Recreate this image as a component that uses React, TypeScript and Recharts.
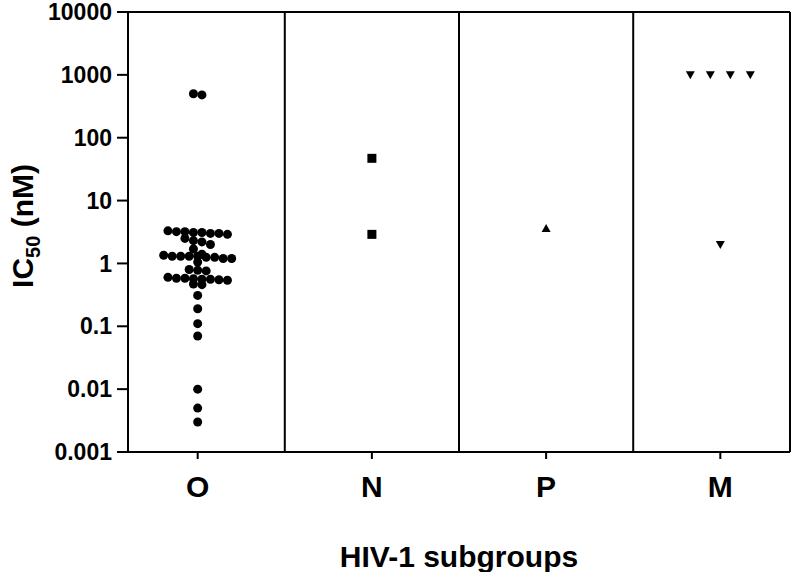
import React from "react";
import {
  ScatterChart,
  Scatter,
  XAxis,
  YAxis,
  ReferenceLine,
} from "recharts";

// ---- data ----
const groups = ["O", "N", "P", "M"];
const yTickValues = [0.001, 0.01, 0.1, 1, 10, 100, 1000, 10000];
const yTickLabels = ["0.001", "0.01", "0.1", "1", "10", "100", "1000", "10000"];

const valuesO = [
  500, 480,
  3.3, 3.2, 3.2, 3.1, 3.1, 3.0, 3.0, 2.9,
  2.5, 2.3, 2.2, 2.0,
  1.7,
  1.4, 1.35, 1.3, 1.3, 1.3, 1.3, 1.25, 1.25, 1.2, 1.2,
  1.05,
  0.8, 0.78, 0.76,
  0.6, 0.58, 0.58, 0.57, 0.56, 0.56, 0.55, 0.54,
  0.47, 0.46,
  0.31, 0.19, 0.11, 0.07, 0.01, 0.005, 0.003,
];
const valuesN = [47, 2.9];
const valuesP = [3.6];
const valuesM = [1000, 1000, 1000, 1000, 2.0];

// ---- layout constants ----
const W = 793;
const H = 572;
const M_TOP = 12;
const M_RIGHT = 3;
const Y_AXIS_W = 128;
const X_AXIS_H = 120;
const X_DOMAIN: [number, number] = [0.6, 4.4];
const PLOT_W = W - Y_AXIS_W - M_RIGHT;
const PX_PER_UNIT = PLOT_W / (X_DOMAIN[1] - X_DOMAIN[0]);
const FONT = "'Liberation Sans', Arial, Helvetica, sans-serif";

// row-based dot plot layout (like a column scatter plot)
function swarm(values: number[], groupX: number, spacingPx: number, rowDecades: number) {
  const sorted = [...values].sort((a, b) => b - a);
  const rows: number[][] = [];
  let cur: number[] = [];
  let start = 0;
  sorted.forEach((v) => {
    const lv = Math.log10(v);
    if (cur.length === 0) {
      cur = [v];
      start = lv;
    } else if (start - lv < rowDecades) {
      cur.push(v);
    } else {
      rows.push(cur);
      cur = [v];
      start = lv;
    }
  });
  if (cur.length) rows.push(cur);
  const pts: { x: number; y: number }[] = [];
  rows.forEach((row) => {
    const n = row.length;
    row.forEach((v, i) => {
      const off = (i - (n - 1) / 2) * spacingPx;
      pts.push({ x: groupX + off / PX_PER_UNIT, y: v });
    });
  });
  return pts;
}

const dataO = swarm(valuesO, 1, 8.5, 0.1);
const dataN = swarm(valuesN, 2, 9, 0.1);
const dataP = swarm(valuesP, 3, 9, 0.1);
const dataM = swarm(valuesM, 4, 20, 0.1);

const Circle = (p: any) => <circle cx={p.cx} cy={p.cy} r={4.5} fill="#000" />;
const Square = (p: any) => (
  <rect x={p.cx - 4.5} y={p.cy - 4.5} width={9} height={9} fill="#000" />
);
const TriUp = (p: any) => (
  <polygon
    points={`${p.cx},${p.cy - 4.5} ${p.cx + 4.5},${p.cy + 3.5} ${p.cx - 4.5},${p.cy + 3.5}`}
    fill="#000"
  />
);
const TriDown = (p: any) => (
  <polygon
    points={`${p.cx - 4.5},${p.cy - 3.5} ${p.cx + 4.5},${p.cy - 3.5} ${p.cx},${p.cy + 4.5}`}
    fill="#000"
  />
);

const YLabel = () => (
  <text
    transform="translate(33,226) rotate(-90)"
    textAnchor="middle"
    fontFamily={FONT}
    fontWeight="bold"
    fontSize={30}
    fill="#000"
  >
    <tspan>IC</tspan>
    <tspan fontSize={20} dy={7}>50</tspan>
    <tspan dy={-7}> (nM)</tspan>
  </text>
);

export default function App() {
  return (
    <div style={{ position: "absolute", left: 0, top: 0, width: W, height: H, background: "#fff" }}>
      <ScatterChart
        width={W}
        height={H}
        margin={{ top: M_TOP, right: M_RIGHT, bottom: 0, left: 0 }}
      >
        <XAxis
          type="number"
          dataKey="x"
          domain={X_DOMAIN}
          ticks={[1, 2, 3, 4]}
          tickFormatter={(v: number) => groups[Math.round(v) - 1]}
          allowDataOverflow
          height={X_AXIS_H}
          axisLine={{ stroke: "#000", strokeWidth: 2 }}
          tickLine={{ stroke: "#000", strokeWidth: 2 }}
          tickSize={7}
          tickMargin={17}
          tick={{ fill: "#000", fontFamily: FONT, fontWeight: "bold", fontSize: 30 }}
          label={{
            value: "HIV-1 subgroups",
            position: "insideBottom",
            offset: 5,
            fill: "#000",
            fontFamily: FONT,
            fontWeight: "bold",
            fontSize: 30,
          }}
        />
        <YAxis
          type="number"
          dataKey="y"
          scale="log"
          domain={[0.001, 10000]}
          ticks={yTickValues}
          tickFormatter={(v: number) => yTickLabels[yTickValues.indexOf(v)] ?? String(v)}
          allowDataOverflow
          interval={0}
          width={Y_AXIS_W}
          axisLine={{ stroke: "#000", strokeWidth: 2 }}
          tickLine={{ stroke: "#000", strokeWidth: 2 }}
          tickSize={11}
          tickMargin={5}
          tick={{ fill: "#000", fontFamily: FONT, fontWeight: "bold", fontSize: 23 }}
          label={{ content: () => <YLabel /> }}
        />
        <ReferenceLine y={10000} stroke="#000" strokeWidth={2} ifOverflow="visible" />
        <ReferenceLine x={X_DOMAIN[1]} stroke="#000" strokeWidth={2} ifOverflow="visible" />
        <ReferenceLine x={1.5} stroke="#000" strokeWidth={2} />
        <ReferenceLine x={2.5} stroke="#000" strokeWidth={2} />
        <ReferenceLine x={3.5} stroke="#000" strokeWidth={2} />
        <Scatter data={dataO} shape={Circle} isAnimationActive={false} />
        <Scatter data={dataN} shape={Square} isAnimationActive={false} />
        <Scatter data={dataP} shape={TriUp} isAnimationActive={false} />
        <Scatter data={dataM} shape={TriDown} isAnimationActive={false} />
      </ScatterChart>
    </div>
  );
}
